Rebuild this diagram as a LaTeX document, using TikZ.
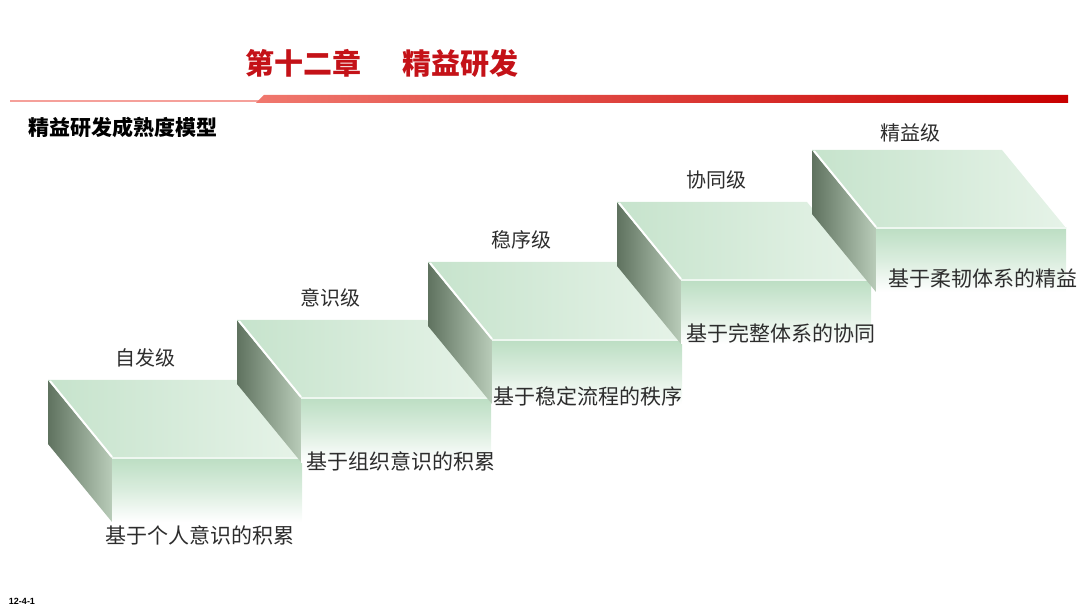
\documentclass[tikz,border=0pt]{standalone}
\usepackage{fontspec}
\newfontfamily\cjk{Noto Sans CJK SC}
\newfontfamily\lat{Liberation Sans}
\definecolor{titlered}{RGB}{196,18,24}
\definecolor{barlight}{RGB}{240,120,110}
\definecolor{bardark}{RGB}{200,0,0}
\definecolor{topL}{RGB}{198,227,204}
\definecolor{topR}{RGB}{230,243,232}
\definecolor{frontT}{RGB}{188,222,195}
\definecolor{sideD}{RGB}{95,114,95}
\definecolor{sideL}{RGB}{185,204,185}
\definecolor{labtxt}{RGB}{45,45,45}
\tikzset{
  lvl/.style={font=\cjk\fontsize{10}{12}\selectfont, text=labtxt, inner sep=0pt},
  desc/.style={font=\cjk\fontsize{10.5}{12}\selectfont, text=labtxt, inner sep=0pt, anchor=west},
  ttl/.style={font=\cjk\bfseries\fontsize{14.5}{16}\selectfont, text=titlered, inner sep=0pt},
}
\newcommand\stairblk[2]{%
  \shade[shading=axis, shading angle=60, left color=sideD, right color=sideL]
    (#1,#2) -- (#1+64,#2+78) -- (#1+64,#2+142) -- (#1,#2+64) -- cycle;
  \shade[top color=frontT, bottom color=white, middle color=frontT!55!white]
    (#1+64,#2+78) rectangle (#1+254,#2+142);
  \shade[left color=topL, right color=topR]
    (#1,#2) -- (#1+190,#2) -- (#1+254,#2+78) -- (#1+64,#2+78) -- cycle;
  \draw[white, line width=1pt] (#1+2,#2+1) -- (#1+64,#2+77);
  \draw[white!70!topL, line width=0.6pt] (#1+64,#2+78) -- (#1+254,#2+78);
}
\begin{document}
\begin{tikzpicture}[x=0.5pt,y=-0.5pt]
\useasboundingbox (0,0) rectangle (1080,608);
% title
\node[ttl] (t1) at (303,63) {第十二章};
\node[ttl] (t2) at (460,63) {精益研发};
% red rule
\fill[barlight!70!white] (10,100.5) rectangle (262,102.5);
\shade[left color=barlight, right color=bardark]
  (256,103) -- (264,95) -- (1068,95) -- (1068,103) -- cycle;
% subtitle
\node[font=\cjk\bfseries\fontsize{10.5}{12}\selectfont, inner sep=0pt, anchor=west] (sub) at (28,128) {精益研发成熟度模型};
% stairs
\stairblk{48}{380}
\stairblk{237}{320}
\stairblk{428}{262}
\stairblk{617}{202}
\stairblk{812}{150}
% level labels
\node[lvl] (l1) at (145,358) {自发级};
\node[lvl] (l2) at (330,298) {意识级};
\node[lvl] (l3) at (521,240) {稳序级};
\node[lvl] (l4) at (716,180) {协同级};
\node[lvl] (l5) at (910,133) {精益级};
% descriptions
\node[desc] (d1) at (105,535) {基于个人意识的积累};
\node[desc] (d2) at (306,461) {基于组织意识的积累};
\node[desc] (d3) at (493,396) {基于稳定流程的秩序};
\node[desc] (d4) at (686,333) {基于完整体系的协同};
\node[desc] (d5) at (888,279) {基于柔韧体系的精益};
% page number
\node[font=\lat\bfseries\fontsize{4.5}{5}\selectfont, inner sep=0pt] (pg) at (22,601) {12-4-1};
\end{tikzpicture}
\end{document}
